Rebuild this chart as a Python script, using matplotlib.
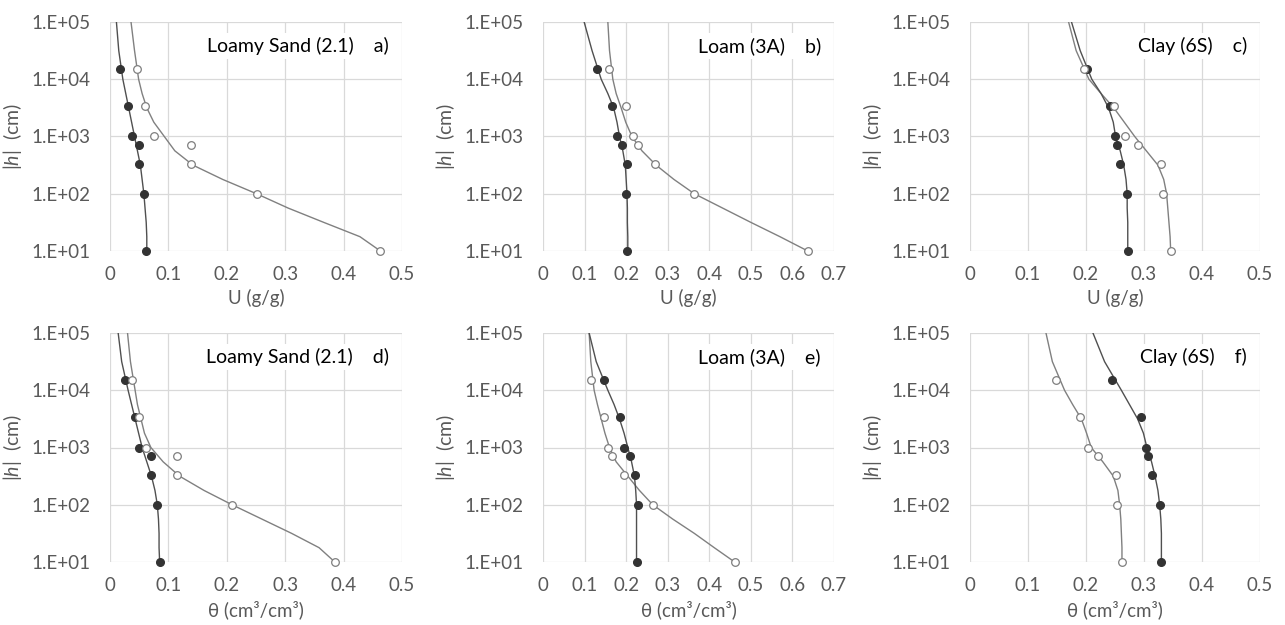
import matplotlib
matplotlib.use("Agg")
import matplotlib.pyplot as plt
import numpy as np

plt.rcParams['font.family'] = ['Lato', 'DejaVu Sans']
plt.rcParams['mathtext.fontset'] = 'custom'
plt.rcParams['mathtext.it'] = 'Lato:italic'
plt.rcParams['mathtext.rm'] = 'Lato'

# measured suction levels (cm)
h_obs = [10, 100, 330, 700, 1000, 3400, 15300]
# log10 suction levels where the fitted curves were read
logh_fit = [1, 1.25, 1.5, 1.75, 2, 2.25, 2.5, 2.75, 3, 3.25, 3.5, 3.75, 4, 4.5, 5]

panel_titles = ["Loamy Sand (2.1)    a)", "Loam (3A)    b)", "Clay (6S)    c)",
                "Loamy Sand (2.1)    d)", "Loam (3A)    e)", "Clay (6S)    f)"]
x_labels = ["U (g/g)"] * 3 + ["\u03b8 (cm\u00b3/cm\u00b3)"] * 3
x_max = [0.5, 0.7, 0.5, 0.5, 0.7, 0.5]

# observed points (filled / open), ordered like h_obs
obs_filled = [
    [0.061, 0.058, 0.050, 0.049, 0.037, 0.031, 0.017],
    [0.201, 0.200, 0.201, 0.189, 0.177, 0.167, 0.130],
    [0.272, 0.270, 0.259, 0.253, 0.250, 0.241, 0.202],
    [0.085, 0.080, 0.071, 0.070, 0.050, 0.043, 0.026],
    [0.225, 0.229, 0.221, 0.210, 0.196, 0.185, 0.146],
    [0.330, 0.327, 0.314, 0.307, 0.303, 0.294, 0.245],
]
obs_open = [
    [0.463, 0.251, 0.138, 0.138, 0.075, 0.060, 0.046],
    [0.637, 0.364, 0.269, 0.228, 0.217, 0.200, 0.159],
    [0.346, 0.333, 0.330, 0.289, 0.267, 0.248, 0.196],
    [0.385, 0.209, 0.115, 0.115, 0.061, 0.050, 0.038],
    [0.461, 0.264, 0.196, 0.166, 0.156, 0.146, 0.115],
    [0.262, 0.253, 0.251, 0.221, 0.203, 0.190, 0.149],
]

# fitted curves read at logh_fit
fit_filled = [
    [0.063, 0.063, 0.062, 0.060, 0.058, 0.055, 0.052, 0.047, 0.042, 0.037, 0.032, 0.027, 0.022, 0.015, 0.011],
    [0.204, 0.204, 0.203, 0.203, 0.202, 0.200, 0.198, 0.192, 0.184, 0.178, 0.170, 0.156, 0.140, 0.118, 0.099],
    [0.272, 0.272, 0.272, 0.271, 0.271, 0.269, 0.265, 0.259, 0.251, 0.247, 0.239, 0.226, 0.210, 0.190, 0.175],
    [0.085, 0.084, 0.084, 0.083, 0.081, 0.077, 0.071, 0.063, 0.055, 0.049, 0.043, 0.037, 0.031, 0.020, 0.014],
    [0.225, 0.225, 0.225, 0.225, 0.225, 0.223, 0.220, 0.213, 0.204, 0.195, 0.184, 0.171, 0.156, 0.128, 0.111],
    [0.330, 0.330, 0.330, 0.329, 0.327, 0.324, 0.319, 0.313, 0.305, 0.299, 0.289, 0.275, 0.261, 0.232, 0.212],
]
fit_open = [
    [0.463, 0.428, 0.366, 0.305, 0.251, 0.193, 0.142, 0.111, 0.093, 0.075, 0.063, 0.055, 0.049, 0.042, 0.036],
    [0.637, 0.570, 0.500, 0.432, 0.364, 0.315, 0.272, 0.238, 0.214, 0.199, 0.188, 0.176, 0.168, 0.160, 0.156],
    [0.346, 0.345, 0.343, 0.341, 0.339, 0.334, 0.324, 0.304, 0.284, 0.266, 0.248, 0.226, 0.205, 0.183, 0.170],
    [0.385, 0.358, 0.311, 0.260, 0.209, 0.161, 0.119, 0.091, 0.070, 0.059, 0.053, 0.047, 0.043, 0.035, 0.030],
    [0.461, 0.412, 0.364, 0.312, 0.264, 0.232, 0.204, 0.176, 0.160, 0.149, 0.140, 0.131, 0.123, 0.115, 0.111],
    [0.262, 0.262, 0.261, 0.260, 0.258, 0.255, 0.247, 0.229, 0.209, 0.201, 0.192, 0.177, 0.163, 0.142, 0.131],
]

y_ticks = [1e1, 1e2, 1e3, 1e4, 1e5]
y_ticklabels = ["1.E+01", "1.E+02", "1.E+03", "1.E+04", "1.E+05"]

W, H = 1285, 625
fig = plt.figure(figsize=(W / 100, H / 100), dpi=100)

lefts = [110, 543, 970]
widths = [292, 291, 290]
tops = [22, 333]
ph = 229

grey = '#595959'
h_fit = 10 ** np.array(logh_fit)

for i in range(6):
    r, c = divmod(i, 3)
    ax = fig.add_axes([lefts[c] / W, 1 - (tops[r] + ph) / H, widths[c] / W, ph / H])
    ax.set_yscale('log')
    ax.set_ylim(10, 1e5)
    ax.set_xlim(0, x_max[i])
    xt = np.round(np.arange(0, x_max[i] + 0.001, 0.1), 1)
    ax.set_xticks(xt)
    ax.set_xticklabels(["0" if v == 0 else f"{v:g}" for v in xt])
    ax.set_yticks(y_ticks)
    ax.set_yticklabels(y_ticklabels)
    ax.minorticks_off()
    ax.grid(True, color='#d9d9d9', lw=0.9)
    ax.set_axisbelow(True)
    for s in ax.spines.values():
        s.set_visible(False)
    ax.tick_params(length=0, labelsize=13.5, colors=grey)
    ax.tick_params(axis='x', pad=11)
    ax.tick_params(axis='y', pad=14)

    ax.plot(fit_open[i], h_fit, color='#808080', lw=1.0, zorder=2)
    ax.plot(fit_filled[i], h_fit, color='#505050', lw=1.0, zorder=2)
    ax.plot(obs_filled[i], h_obs, 'o', ms=5.5, mfc='#333333', mec='#333333',
            ls='none', zorder=4, clip_on=False)
    ax.plot(obs_open[i], h_obs, 'o', ms=5.5, mfc='white', mec='#7f7f7f', mew=0.9,
            ls='none', zorder=4, clip_on=False)

    ax.set_xlabel(x_labels[i], fontsize=13.5, color=grey, labelpad=4)
    ax.set_ylabel(r'|$\mathit{h}$|  (cm)', fontsize=14, color=grey, labelpad=5)
    ax.text(0.955, 0.895, panel_titles[i], transform=ax.transAxes, ha='right', va='center',
            fontsize=14, color='black', zorder=3,
            bbox=dict(facecolor='white', edgecolor='none', pad=3))

fig.savefig("out.png", dpi=100)
